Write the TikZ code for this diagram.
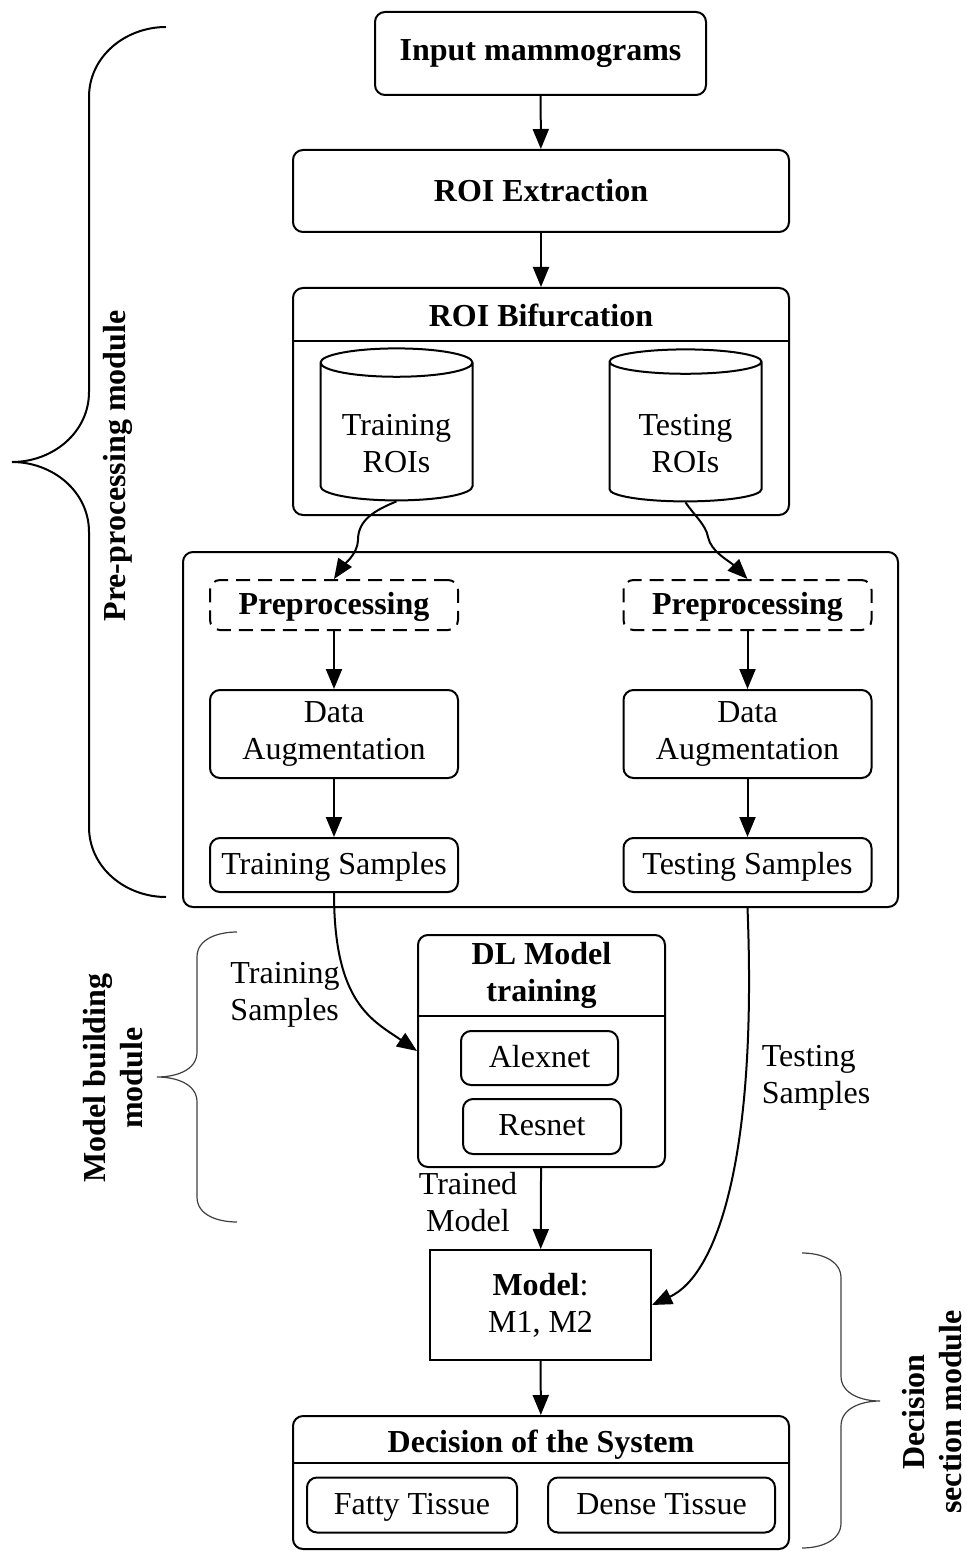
\documentclass[tikz,border=0pt]{standalone}
\usepackage{fontspec}
\setmainfont{Liberation Serif}
\usetikzlibrary{arrows.meta, positioning, shapes.geometric}
\newcommand{\dgsize}{\fontsize{16}{18.5}\selectfont}

\begin{document}
\begin{tikzpicture}[
  x=0.5pt, y=-0.5pt,
  font=\dgsize,
  >={Triangle[length=10pt, width=8pt]},
  box/.style={draw, line width=1pt, rounded corners=5pt, align=center, inner sep=2pt},
  one/.style={text height=12pt, text depth=3pt},
  sq/.style={draw, line width=1pt, align=center, inner sep=2pt},
  dbox/.style={box, dash pattern=on 7pt off 4pt},
  hd/.style={font=\dgsize\bfseries, align=center, inner sep=1pt},
  db/.style={draw, line width=1pt, cylinder, shape border rotate=90, aspect=0.26,
             minimum width=76pt, minimum height=76pt, align=center, inner sep=0pt},
  lbl/.style={align=left, inner sep=1pt},
  side/.style={font=\dgsize\bfseries, rotate=90, align=center, inner sep=1pt},
  flow/.style={->, line width=1pt},
  brc/.style={line width=1pt},
  thinbrc/.style={line width=0.6pt, draw=black!75},
]
\useasboundingbox (0,0) rectangle (966,1551);

% ======================= input and ROI ==================================
\node[box, hd, minimum width=165.5pt, minimum height=41.5pt] (inp) at (540.5,53.5) {Input mammograms};
\node[box, hd, minimum width=248pt, minimum height=41pt] (roi) at (541,191) {ROI Extraction};
\draw[flow] (inp) -- (roi);

\node[box, minimum width=248pt, minimum height=113.5pt] (bif) at (541,401.5) {};
\node[hd] (biftl) at (541,315) {ROI Bifurcation};
\draw[line width=1pt] ([yshift=-27pt]bif.north west) -- ([yshift=-27pt]bif.north east);
\draw[flow] (roi) -- (bif);
\foreach \n/\x/\t in {trroi/396.5/Training, teroi/685.5/Testing} {
  \node[db] (\n) at (\x,432) {\phantom{\t}\\\phantom{ROIs}};
  \node[align=center, inner sep=1pt] (\n txt) at (\x,444) {\t\\ROIs};
}

% ======================= the two branches ===============================
\node[box, minimum width=357.5pt, minimum height=177.5pt] (cont) at (540.5,729.5) {};
\foreach \s/\x in {L/334, R/747.5} {
  \node[dbox, hd, one, minimum width=124pt, minimum height=25pt] (prep\s) at (\x,605) {Preprocessing};
  \node[box, minimum width=124pt, minimum height=44pt] (aug\s) at (\x,734) {Data\\Augmentation};
  \draw[flow] (prep\s) -- (aug\s);
}
\node[box, one, minimum width=124pt, minimum height=27pt] (tsL) at (334,865) {Training Samples};
\node[box, one, minimum width=124pt, minimum height=27pt] (tsR) at (747.5,865) {Testing Samples};
\draw[flow] (augL) -- (tsL);
\draw[flow] (augR) -- (tsR);

% wavy hand-over from the ROI stores
\draw[flow] (trroi.south) .. controls +(-22,9) and +(0,-20) .. (358,540)
  .. controls +(0,14) and +(8,-12) .. (prepL.north);
\draw[flow] (teroi.south) .. controls +(8,12) and +(-2,-12) .. (708,537)
  .. controls +(3,15) and +(-18,-18) .. (prepR.north);

% ======================= model building =================================
\node[box, minimum width=123.5pt, minimum height=116pt] (dl) at (541.5,1051) {};
\node[hd] (dltl) at (541.5,975) {DL Model\\training};
\draw[line width=1pt] ([yshift=-41pt]dl.north west) -- ([yshift=-41pt]dl.north east);
\node[box, one, minimum width=78.5pt, minimum height=27pt] (alex) at (539.5,1058) {Alexnet};
\node[box, one, minimum width=79pt, minimum height=27.5pt] (resn) at (542,1126.5) {Resnet};

\draw[flow] (tsL.south) .. controls +(0,110) and +(-45,-31) .. (dl.west);
\node[lbl] (trlbl) at (285,995) {Training\\Samples};

\node[sq, minimum width=110.5pt, minimum height=55pt] (mdl) at (540.5,1305) {\textbf{Model}:\\M1, M2};
\draw[flow] (dl) -- (mdl);
\node[lbl, align=center] (tmlbl) at (468,1202) {Trained\\Model};

\draw[flow] (tsR |- cont.south) .. controls +(10,250) and +(65,-30) .. (mdl.east);
\node[lbl] (telbl) at (816,1078) {Testing\\Samples};

% ======================= decision =======================================
\node[box, minimum width=248pt, minimum height=66.5pt] (dec) at (541,1482.5) {};
\node[hd] (dectl) at (541,1445) {Decision of the System};
\draw[line width=1pt] ([yshift=-24pt]dec.north west) -- ([yshift=-24pt]dec.north east);
\node[box, one, minimum width=105pt, minimum height=27.5pt] (fat) at (412,1505) {Fatty Tissue};
\node[box, one, minimum width=113.5pt, minimum height=27.5pt] (dense) at (661.5,1505) {Dense Tissue};
\draw[flow] (mdl) -- (dec);

% ======================= module braces ==================================
\coordinate (pb1) at (166,27);
\coordinate (pb2) at (166,897);
\draw[brc] (pb1) to[out=180,in=90] (89,97) -- (89,392) to[out=-90,in=0] (12,462)
  to[out=0,in=90] (89,532) -- (89,827) to[out=-90,in=180] (pb2);
\node[side] (pblbl) at (118,466) {Pre-processing module};

\coordinate (mb1) at (237,932);
\coordinate (mb2) at (237,1222);
\draw[thinbrc] (mb1) to[out=180,in=90] (197,957) -- (197,1052) to[out=-90,in=0] (157,1077)
  to[out=0,in=90] (197,1102) -- (197,1197) to[out=-90,in=180] (mb2);
\node[side] (mblbl) at (113,1078) {Model building\\module};

\coordinate (db1) at (802,1253);
\coordinate (db2) at (802,1548);
\draw[thinbrc] (db1) to[out=0,in=90] (841,1278) -- (841,1376) to[out=-90,in=180] (880,1401)
  to[out=180,in=90] (841,1426) -- (841,1523) to[out=-90,in=0] (db2);
\node[side] (dblbl) at (932,1412) {Decision\\section module};
\end{tikzpicture}
\end{document}
